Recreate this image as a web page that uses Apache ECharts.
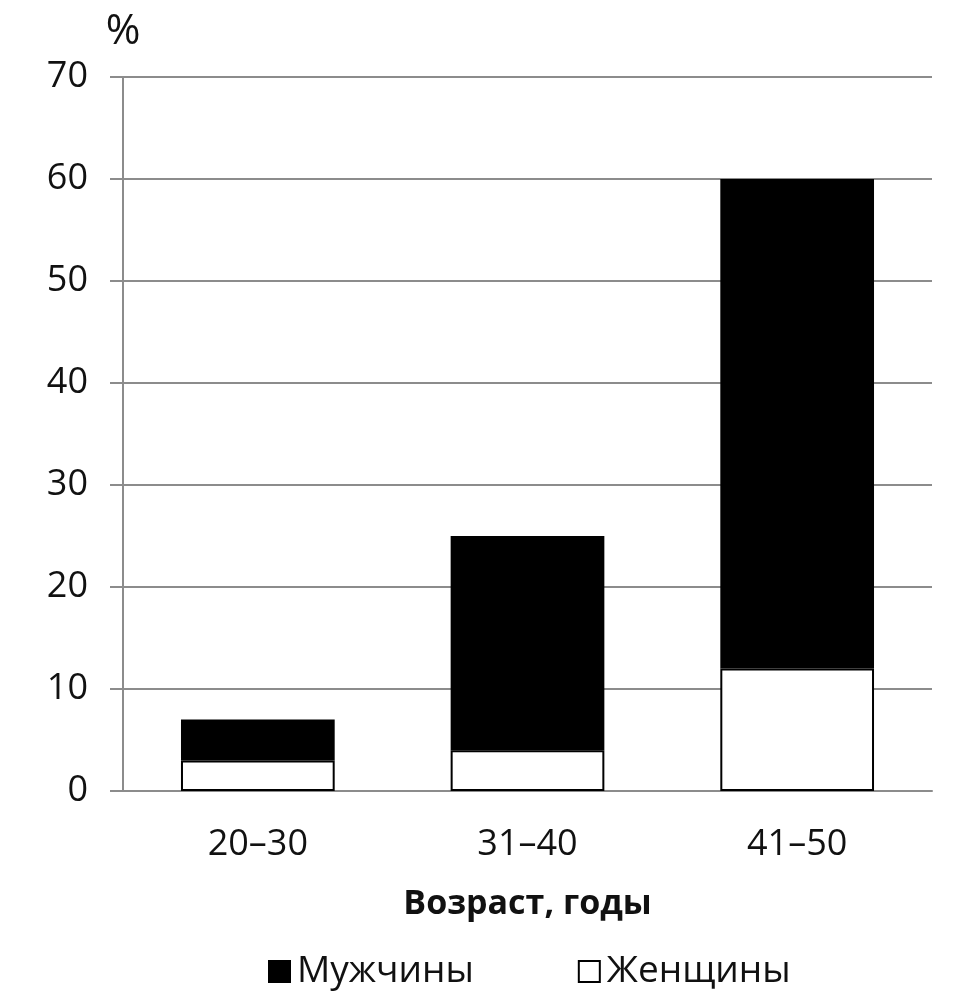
<!DOCTYPE html>
<html>
<head>
<meta charset="utf-8">
<script src="https://cdn.jsdelivr.net/npm/echarts@6/dist/echarts.min.js"></script>
<style>
    html, body { margin: 0; padding: 0; background: #fff; }
    #chart { width: 975px; height: 1000px; }
</style>
</head>
<body>
<div id="chart"></div>
<script>
    // возрастные группы
    var categories = ['20–30', '31–40', '41–50'];
    var women = [3, 4, 12];
    var men = [4, 21, 48];   // сверху, итог 7 / 25 / 60
    var yTicks = [0, 10, 20, 30, 40, 50, 60, 70];

    var font = '"Open Sans", "Noto Sans", sans-serif';
    var myChart = echarts.init(document.getElementById('chart'));

    var option = {
        animation: false,
        textStyle: { fontFamily: font },
        grid: {
            left: 123,
            right: 43,
            top: 77,
            bottom: 209
        },
        legend: {
            data: ['Мужчины', 'Женщины'],
            bottom: 5,
            left: 263,
            icon: 'rect',
            itemWidth: 21,
            itemHeight: 21,
            itemGap: 104,
            textStyle: { fontSize: 37, color: '#111', fontFamily: font, padding: [0, 0, 0, 2] }
        },
        xAxis: {
            type: 'category',
            data: categories,
            name: 'Возраст, годы',
            nameLocation: 'middle',
            nameGap: 96,
            nameTextStyle: { fontSize: 34, fontWeight: 'bold', color: '#111', fontFamily: font },
            axisLine: { lineStyle: { color: '#8c8c8c', width: 2 } },
            axisTick: { show: false },
            axisLabel: { fontSize: 36, color: '#111', margin: 36 }
        },
        yAxis: {
            type: 'value',
            min: yTicks[0],
            max: yTicks[yTicks.length - 1],
            interval: 10,
            name: '%',
            nameLocation: 'end',
            nameGap: 24,
            nameTextStyle: { fontSize: 42, color: '#111', fontFamily: font, align: 'center' },
            axisLine: { show: true, lineStyle: { color: '#8c8c8c', width: 2 } },
            axisTick: { show: true, length: 13, lineStyle: { color: '#8c8c8c', width: 2 } },
            axisLabel: { fontSize: 36, color: '#111', margin: 35 },
            splitLine: { lineStyle: { color: '#8c8c8c', width: 2 } }
        },
        series: [
            {
                name: 'Женщины',
                type: 'bar',
                stack: 'total',
                barWidth: '57%',
                itemStyle: { color: '#ffffff', borderColor: '#000', borderWidth: 2 },
                data: women
            },
            {
                name: 'Мужчины',
                type: 'bar',
                stack: 'total',
                barWidth: '57%',
                itemStyle: { color: '#000000', borderColor: '#000', borderWidth: 2 },
                data: men
            }
        ]
    };

    myChart.setOption(option);
</script>
</body>
</html>
